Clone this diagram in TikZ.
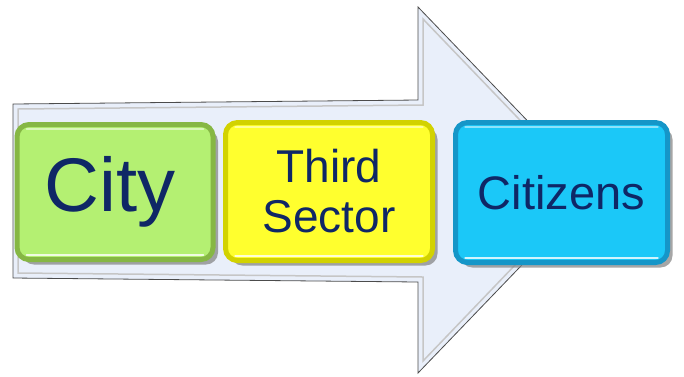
\documentclass[tikz,border=0pt]{standalone}
\usepackage{fontspec}
\setmainfont{Liberation Sans}
\usepackage{tikz}
\usetikzlibrary{shadows}

\definecolor{arrowfill}{HTML}{E9EFFA}
\definecolor{textblue}{HTML}{0F2766}
\definecolor{cityfill}{HTML}{B4F072}
\definecolor{cityrim}{HTML}{86B744}
\definecolor{thirdfill}{HTML}{FFFF2E}
\definecolor{thirdrim}{HTML}{D2D200}
\definecolor{citizenfill}{HTML}{1BC8F8}
\definecolor{citizenrim}{HTML}{1596C8}

\tikzset{
	stagebox/.style={rounded corners=12pt, line width=5pt, align=center,
		text=textblue, inner sep=0pt,
		drop shadow={shadow xshift=5pt, shadow yshift=-5pt, opacity=0.7}},
	shine/.style={white, opacity=0.8, line width=1.3pt, line cap=round}
}

\begin{document}
\begin{tikzpicture}[x=1pt, y=-1pt]
	\useasboundingbox (0,0) rectangle (684,376);

	% Draw the big arrow
	\filldraw[fill=arrowfill, draw=gray!60!black, line width=0.8pt]
		(13,104) -- (418,100) -- (418,7) -- (594,190) -- (418,373) -- (418,282) -- (13,278) -- cycle;
	\draw[gray!45, line width=1.5pt]
		(18,109) -- (423,105) -- (423,19) -- (587,190) -- (423,361) -- (423,277) -- (18,273) -- cycle;

	% Draw the three boxes
	\node[stagebox, fill=cityfill, draw=cityrim, minimum width=196pt, minimum height=135pt,
		font=\fontsize{76}{80}\selectfont]
		(city) at (115,192) {\hspace*{-10pt}City};
	\node[stagebox, fill=thirdfill, draw=thirdrim, minimum width=207pt, minimum height=138pt,
		font=\fontsize{46}{50}\selectfont]
		(third) at (329,191.5) {Third\\Sector};
	\node[stagebox, fill=citizenfill, draw=citizenrim, minimum width=212pt, minimum height=140pt,
		font=\fontsize{47}{50}\selectfont]
		(citizens) at (561.5,192.5) {Citizens};

	% Add the light lines inside the boxes
	\foreach \b in {city, third, citizens} {
		\draw[shine] ([xshift=12pt, yshift=7pt]\b.south west) -- ([xshift=-12pt, yshift=7pt]\b.south east);
		\draw[shine, opacity=0.5] ([xshift=12pt, yshift=-7pt]\b.north west) -- ([xshift=-12pt, yshift=-7pt]\b.north east);
	}
\end{tikzpicture}
\end{document}
